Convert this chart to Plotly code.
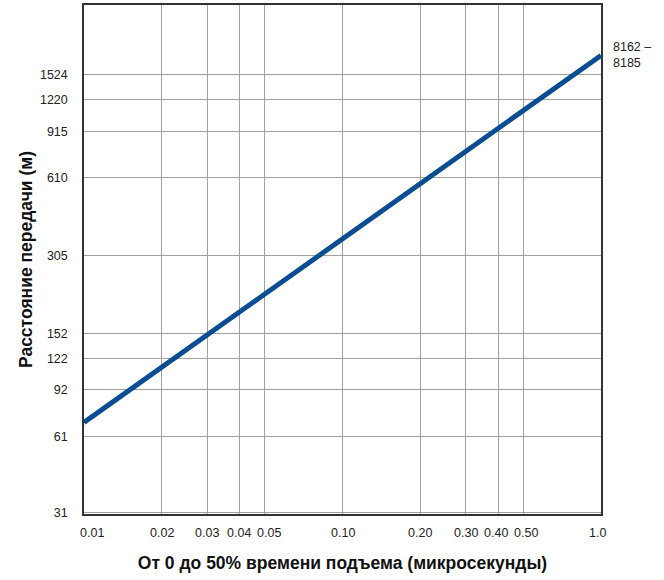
import math
import plotly.graph_objects as go

# Data (log-log chart)
rise_time_us = [0.01, 1.0]
distance_m = [69, 1800]

x_tickvals = [0.01, 0.02, 0.03, 0.04, 0.05, 0.10, 0.20, 0.30, 0.40, 0.50, 1.0]
x_ticktext = ["0.01", "0.02", "0.03", "0.04", "0.05", "0.10", "0.20", "0.30", "0.40", "0.50", "1.0"]
y_tickvals = [31, 61, 92, 122, 152, 305, 610, 915, 1220, 1524]
y_ticktext = [str(v) for v in y_tickvals]

series_label = "8162 –<br>8185"

# small horizontal nudges of the x labels, as in the reference
x_label_nudge = [8, 0, 0, -1, 4, 0, 0, 0, -2, 3, -4]

tick_font = dict(family="Liberation Sans Narrow, Liberation Sans, Arial", size=12.5, color="#222222")
title_font = dict(family="Liberation Sans, Arial", size=17.5, color="#111111")

fig = go.Figure()

fig.add_trace(go.Scatter(
    x=rise_time_us,
    y=distance_m,
    mode="lines",
    line=dict(color="#0b4d92", width=5),
    hoverinfo="skip",
    showlegend=False,
    cliponaxis=False,
))

# annotations on log axes take log10 coordinates
fig.add_annotation(
    x=math.log10(rise_time_us[-1]), y=math.log10(distance_m[-1]),
    xref="x", yref="y",
    text=series_label,
    showarrow=False,
    xanchor="left", yanchor="middle",
    xshift=10,
    align="left",
    font=tick_font,
)

# x tick labels drawn as annotations so each can be nudged
for val, txt, dx in zip(x_tickvals, x_ticktext, x_label_nudge):
    fig.add_annotation(
        x=math.log10(val), y=0,
        xref="x", yref="paper",
        text=txt,
        showarrow=False,
        xanchor="center", yanchor="top",
        xshift=dx, yshift=-10,
        font=tick_font,
    )

fig.update_xaxes(
    type="log",
    range=[-2, 0],
    tickvals=x_tickvals,
    showticklabels=False,
    automargin=False,
    showgrid=True, gridcolor="#a0a0a0", gridwidth=1,
    showline=True, linecolor="#333333", linewidth=1.5, mirror=True,
    ticks="",
    zeroline=False,
    title=dict(text="<b>От 0 до 50% времени подъема (микросекунды)</b>", font=title_font, standoff=42),
)

fig.update_yaxes(
    type="log",
    range=[1.485, 3.45],
    tickvals=y_tickvals,
    ticktext=y_ticktext,
    automargin=False,
    showgrid=True, gridcolor="#a0a0a0", gridwidth=1,
    showline=True, linecolor="#333333", linewidth=1.5, mirror=True,
    ticks="", ticklabelstandoff=12,
    tickfont=tick_font,
    zeroline=False,
    title=dict(text="<b>Расстояние передачи (м)</b>", font=title_font, standoff=3),
)

fig.update_layout(
    width=664, height=580,
    margin=dict(l=84, r=63, t=5, b=66),
    plot_bgcolor="white",
    paper_bgcolor="white",
    showlegend=False,
)

# drop the default page margin so the figure sits at the window's top-left corner
fig.write_html("out.html", config={"displayModeBar": False},
               post_script="document.body.style.margin='0';")
